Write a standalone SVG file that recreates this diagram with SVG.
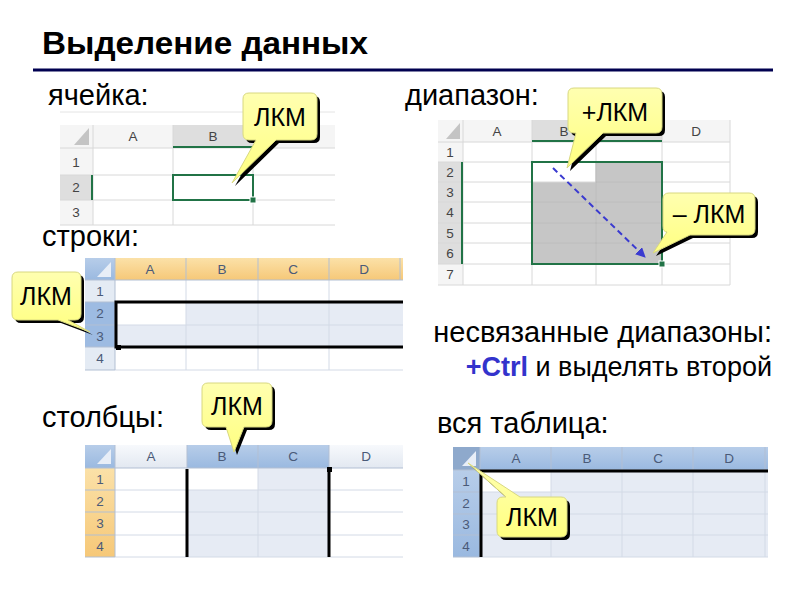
<svg xmlns="http://www.w3.org/2000/svg" width="800" height="600" viewBox="0 0 800 600">
<defs>
<linearGradient id="cg" x1="0" y1="0" x2="0" y2="1">
<stop offset="0" stop-color="#ffffb0"/>
<stop offset="1" stop-color="#ffff80"/>
</linearGradient>
<linearGradient id="hdr07" x1="0" y1="0" x2="0" y2="1">
<stop offset="0" stop-color="#f7f9fc"/>
<stop offset="1" stop-color="#e2e8f1"/>
</linearGradient>
<linearGradient id="sel07" x1="0" y1="0" x2="0" y2="1">
<stop offset="0" stop-color="#b7cde9"/>
<stop offset="1" stop-color="#9ab9e0"/>
</linearGradient>
<linearGradient id="org07" x1="0" y1="0" x2="0" y2="1">
<stop offset="0" stop-color="#fbe1a8"/>
<stop offset="1" stop-color="#f6c878"/>
</linearGradient>
<marker id="arr" viewBox="0 0 10 10" refX="9" refY="5" markerWidth="5" markerHeight="5" orient="auto">
<path d="M0,0 L10,5 L0,10 Z" fill="#3a3ad0"/>
</marker>
</defs>
<style>
.lbl{font-family:"Liberation Sans",Arial,sans-serif;font-size:29px;fill:#000}
.lbl2{font-family:"Liberation Sans",Arial,sans-serif;font-size:27px;fill:#000}
.ttl{font-family:"Liberation Sans",Arial,sans-serif;font-size:31px;font-weight:bold;fill:#000}
.ct{font-family:"Liberation Sans",Arial,sans-serif;font-size:25px;fill:#000;text-anchor:middle}
.hd{font-family:"Liberation Sans",Arial,sans-serif;font-size:13.5px;fill:#444;text-anchor:middle}
.hd7{font-family:"Liberation Sans",Arial,sans-serif;font-size:13.5px;fill:#4a5a78;text-anchor:middle}
.g13{stroke:#d8d8d8;stroke-width:1;fill:none}
.g07{stroke:#d3dae6;stroke-width:1;fill:none}
.h07{stroke:#b2bfd3;stroke-width:1;fill:none}
.sh{fill:#000}
.cb{fill:url(#cg);stroke:#d8d880;stroke-width:1}
.thick{stroke:#000;stroke-width:3;fill:none}
</style>
<rect width="800" height="600" fill="#fff"/>

<!-- Title -->
<g id="title">
<text class="ttl" x="42" y="54" textLength="326" lengthAdjust="spacingAndGlyphs">Выделение данных</text>
<line x1="33" y1="70" x2="773" y2="70" stroke="#000050" stroke-width="3"/>
</g>

<!-- Labels -->
<g id="labels">
<text class="lbl" x="48" y="105">ячейка:</text>
<text class="lbl" x="405" y="105">диапазон:</text>
<text class="lbl" x="42" y="246">строки:</text>
<text class="lbl" x="42" y="427">столбцы:</text>
<text class="lbl" x="437" y="433">вся таблица:</text>
<text class="lbl" x="772" y="342" text-anchor="end">несвязанные диапазоны:</text>
<text class="lbl2" x="772" y="376" text-anchor="end"><tspan fill="#3333cc" font-weight="bold">+Ctrl</tspan> и выделять второй</text>
</g>

<!-- Table 1: cell -->
<g id="table-cell">
<line x1="60" y1="112" x2="335" y2="112" stroke="#e4e4e4"/>
<rect x="60" y="125" width="275" height="23" fill="#f5f5f5"/>
<rect x="60" y="148" width="33" height="77" fill="#f5f5f5"/>
<rect x="173" y="125" width="80" height="23" fill="#dedede"/>
<rect x="60" y="175" width="33" height="25" fill="#dedede"/>
<polygon points="89,128 89,145 74,145" fill="#c4c4c4"/>
<path class="g13" d="M93,125 V225 M173,125 V225 M253,125 V225 M60,148 H335 M60,175 H335 M60,200 H335 M60,225 H335"/>
<line x1="173" y1="147" x2="253" y2="147" stroke="#217346" stroke-width="2"/>
<line x1="92" y1="175" x2="92" y2="200" stroke="#217346" stroke-width="2"/>
<text class="hd" x="133" y="141">A</text>
<text class="hd" x="213" y="141" fill="#217346">B</text>
<text class="hd" x="294" y="141">C</text>
<text class="hd" x="76" y="167">1</text>
<text class="hd" x="76" y="192">2</text>
<text class="hd" x="76" y="217">3</text>
<rect x="173" y="175" width="80" height="25" fill="none" stroke="#217346" stroke-width="2"/>
<rect x="250" y="197" width="6" height="6" fill="#217346" stroke="#fff" stroke-width="1"/>
</g>

<!-- Table 2: range -->
<g id="table-range">
<rect x="438" y="120" width="292" height="22" fill="#f5f5f5"/>
<rect x="438" y="142" width="25" height="143" fill="#f5f5f5"/>
<rect x="532" y="120" width="130" height="22" fill="#dedede"/>
<rect x="438" y="162" width="25" height="102" fill="#dedede"/>
<polygon points="460,123 460,139 446,139" fill="#c4c4c4"/>
<rect x="532" y="162" width="130" height="102" fill="#c6c6c6"/>
<rect x="532" y="162" width="64" height="20" fill="#fff"/>
<path class="g13" d="M463,120 V285 M532,120 V285 M596,120 V285 M662,120 V285 M730,120 V285 M438,142 H730 M438,162 H730 M438,182 H730 M438,202 H730 M438,223 H730 M438,243 H730 M438,264 H730 M438,285 H730"/>
<path d="M532,182 V264 M596,162 V264 M532,202 H662 M532,223 H662 M532,243 H662 M596,182 H662" stroke="#b4b4b4" fill="none"/>
<line x1="532" y1="141" x2="662" y2="141" stroke="#217346" stroke-width="2"/>
<line x1="462" y1="162" x2="462" y2="264" stroke="#217346" stroke-width="2"/>
<text class="hd" x="497" y="136">A</text>
<text class="hd" x="564" y="136" fill="#217346">B</text>
<text class="hd" x="629" y="136" fill="#217346">C</text>
<text class="hd" x="696" y="136">D</text>
<text class="hd" x="450" y="157">1</text>
<text class="hd" x="450" y="177" fill="#217346">2</text>
<text class="hd" x="450" y="197" fill="#217346">3</text>
<text class="hd" x="450" y="217" fill="#217346">4</text>
<text class="hd" x="450" y="238" fill="#217346">5</text>
<text class="hd" x="450" y="258" fill="#217346">6</text>
<text class="hd" x="450" y="279">7</text>
<rect x="532" y="162" width="130" height="102" fill="none" stroke="#217346" stroke-width="2"/>
<rect x="659" y="261" width="6" height="6" fill="#217346" stroke="#fff" stroke-width="1"/>
</g>

<!-- Table 3: rows -->
<g id="table-rows">
<rect x="85" y="258" width="318" height="22" fill="url(#org07)"/>
<rect x="85" y="258" width="30" height="22" fill="url(#sel07)"/>
<polygon points="111,262 111,277 97,277" fill="#e8eef7"/>
<rect x="85" y="280" width="30" height="90" fill="#e4ebf4"/>
<rect x="85" y="302" width="30" height="45" fill="#9dbbe2"/>
<rect x="115" y="302" width="288" height="45" fill="#e6ebf4"/>
<rect x="115" y="302" width="71" height="23" fill="#fff"/>
<path class="g07" d="M186,280 V370 M258,280 V370 M329,280 V370 M115,302 H403 M115,325 H403 M115,347 H403 M115,370 H403"/>
<path class="h07" d="M115,258 V370 M186,258 V280 M258,258 V280 M329,258 V280 M400,258 V280 M85,280 H403 M85,302 H115 M85,325 H115 M85,347 H115 M85,370 H115"/>
<text class="hd7" x="150" y="274">A</text>
<text class="hd7" x="222" y="274">B</text>
<text class="hd7" x="293" y="274">C</text>
<text class="hd7" x="364" y="274">D</text>
<text class="hd7" x="100" y="296">1</text>
<text class="hd7" x="100" y="318">2</text>
<text class="hd7" x="100" y="341">3</text>
<text class="hd7" x="100" y="363">4</text>
<path class="thick" d="M403,302 H116 V347 H403"/>
<rect x="116" y="345" width="5" height="5" fill="#000"/>
</g>

<!-- Table 4: columns -->
<g id="table-cols">
<rect x="85" y="445" width="318" height="23" fill="url(#hdr07)"/>
<rect x="187" y="445" width="142" height="23" fill="url(#sel07)"/>
<rect x="85" y="445" width="30" height="23" fill="url(#sel07)"/>
<polygon points="111,449 111,464 97,464" fill="#e8eef7"/>
<rect x="85" y="468" width="30" height="89" fill="url(#org07)"/>
<rect x="187" y="468" width="142" height="89" fill="#e6ebf4"/>
<rect x="187" y="468" width="71" height="22" fill="#fff"/>
<path class="g07" d="M187,468 V557 M258,468 V557 M329,468 V557 M115,490 H403 M115,512 H403 M115,535 H403 M115,557 H403"/>
<path class="h07" d="M115,445 V557 M187,445 V468 M258,445 V468 M329,445 V468 M85,468 H403 M85,490 H115 M85,512 H115 M85,535 H115 M85,557 H115"/>
<text class="hd7" x="151" y="461">A</text>
<text class="hd7" x="222" y="461">B</text>
<text class="hd7" x="293" y="461">C</text>
<text class="hd7" x="366" y="461">D</text>
<text class="hd7" x="100" y="484">1</text>
<text class="hd7" x="100" y="506">2</text>
<text class="hd7" x="100" y="528">3</text>
<text class="hd7" x="100" y="551">4</text>
<path class="thick" d="M187,557 V469 M329,469 V557"/>
<rect x="327" y="467" width="5" height="5" fill="#000"/>
</g>

<!-- Table 5: whole table -->
<g id="table-all">
<rect x="453" y="447" width="315" height="23" fill="url(#sel07)"/>
<rect x="453" y="447" width="27" height="23" fill="#8ea9cc"/>
<polygon points="476,451 476,466 462,466" fill="#e8eef7"/>
<rect x="453" y="470" width="27" height="87" fill="url(#sel07)"/>
<rect x="480" y="470" width="288" height="87" fill="#e6ebf4"/>
<rect x="480" y="470" width="71" height="22" fill="#fff"/>
<path class="g07" d="M551,470 V557 M622,470 V557 M693,470 V557 M765,470 V557 M480,492 H768 M480,514 H768 M480,535 H768 M480,557 H768"/>
<path class="h07" d="M480,447 V557 M551,447 V470 M622,447 V470 M693,447 V470 M765,447 V470 M453,470 H768 M453,492 H480 M453,514 H480 M453,535 H480 M453,557 H480"/>
<text class="hd7" x="516" y="463">A</text>
<text class="hd7" x="587" y="463">B</text>
<text class="hd7" x="658" y="463">C</text>
<text class="hd7" x="729" y="463">D</text>
<text class="hd7" x="466" y="486">1</text>
<text class="hd7" x="466" y="508">2</text>
<text class="hd7" x="466" y="529">3</text>
<text class="hd7" x="466" y="551">4</text>
<path class="thick" d="M768,471 H481 V557"/>
</g>

<!-- Connectors -->
<g id="connectors">
<line x1="553" y1="168" x2="645" y2="257" stroke="#3a3ad0" stroke-width="2" stroke-dasharray="6,4" marker-end="url(#arr)"/>
</g>

<!-- Callouts -->
<g id="callout-cell">
<path class="sh" transform="translate(3,3)" d="M249,93 H311 Q317,93 317,99 V134 Q317,140 311,140 H276 L232,183 L256,140 H249 Q243,140 243,134 V99 Q243,93 249,93 Z"/>
<path class="cb" d="M249,93 H311 Q317,93 317,99 V134 Q317,140 311,140 H276 L232,183 L256,140 H249 Q243,140 243,134 V99 Q243,93 249,93 Z"/>
<text class="ct" x="280" y="126">ЛКМ</text>
</g>
<g id="callout-range-start">
<path class="sh" transform="translate(3,3)" d="M574,88 H656 Q662,88 662,94 V127 Q662,133 656,133 H603 L567,168 L576,133 H574 Q568,133 568,127 V94 Q568,88 574,88 Z"/>
<path class="cb" d="M574,88 H656 Q662,88 662,94 V127 Q662,133 656,133 H603 L567,168 L576,133 H574 Q568,133 568,127 V94 Q568,88 574,88 Z"/>
<text class="ct" x="615" y="121">+ЛКМ</text>
</g>
<g id="callout-range-end">
<path class="sh" transform="translate(3,3)" d="M669,193 H749 Q755,193 755,199 V229 Q755,235 749,235 H690 L653,253 L667,232 Q663,232 663,226 V199 Q663,193 669,193 Z"/>
<path class="cb" d="M669,193 H749 Q755,193 755,199 V229 Q755,235 749,235 H690 L653,253 L667,232 Q663,232 663,226 V199 Q663,193 669,193 Z"/>
<text class="ct" x="709" y="223">– ЛКМ</text>
</g>
<g id="callout-rows">
<path class="sh" transform="translate(3,3)" d="M18,272 H75 Q81,272 81,278 V314 Q81,320 75,320 H68 L90,332 L58,320 H18 Q12,320 12,314 V278 Q12,272 18,272 Z"/>
<path class="cb" d="M18,272 H75 Q81,272 81,278 V314 Q81,320 75,320 H68 L90,332 L58,320 H18 Q12,320 12,314 V278 Q12,272 18,272 Z"/>
<text class="ct" x="46" y="305">ЛКМ</text>
</g>
<g id="callout-cols">
<path class="sh" transform="translate(3,3)" d="M208,383 H266 Q272,383 272,389 V421 Q272,427 266,427 H244 L234,452 L226,427 H208 Q202,427 202,421 V389 Q202,383 208,383 Z"/>
<path class="cb" d="M208,383 H266 Q272,383 272,389 V421 Q272,427 266,427 H244 L234,452 L226,427 H208 Q202,427 202,421 V389 Q202,383 208,383 Z"/>
<text class="ct" x="237" y="415">ЛКМ</text>
</g>
<g id="callout-all">
<path class="sh" transform="translate(3,3)" d="M503,497 H506 L468,463 L520,497 H561 Q567,497 567,503 V531 Q567,537 561,537 H503 Q497,537 497,531 V503 Q497,497 503,497 Z"/>
<path class="cb" d="M503,497 H506 L468,463 L520,497 H561 Q567,497 567,503 V531 Q567,537 561,537 H503 Q497,537 497,531 V503 Q497,497 503,497 Z"/>
<text class="ct" x="532" y="526">ЛКМ</text>
</g>
</svg>
